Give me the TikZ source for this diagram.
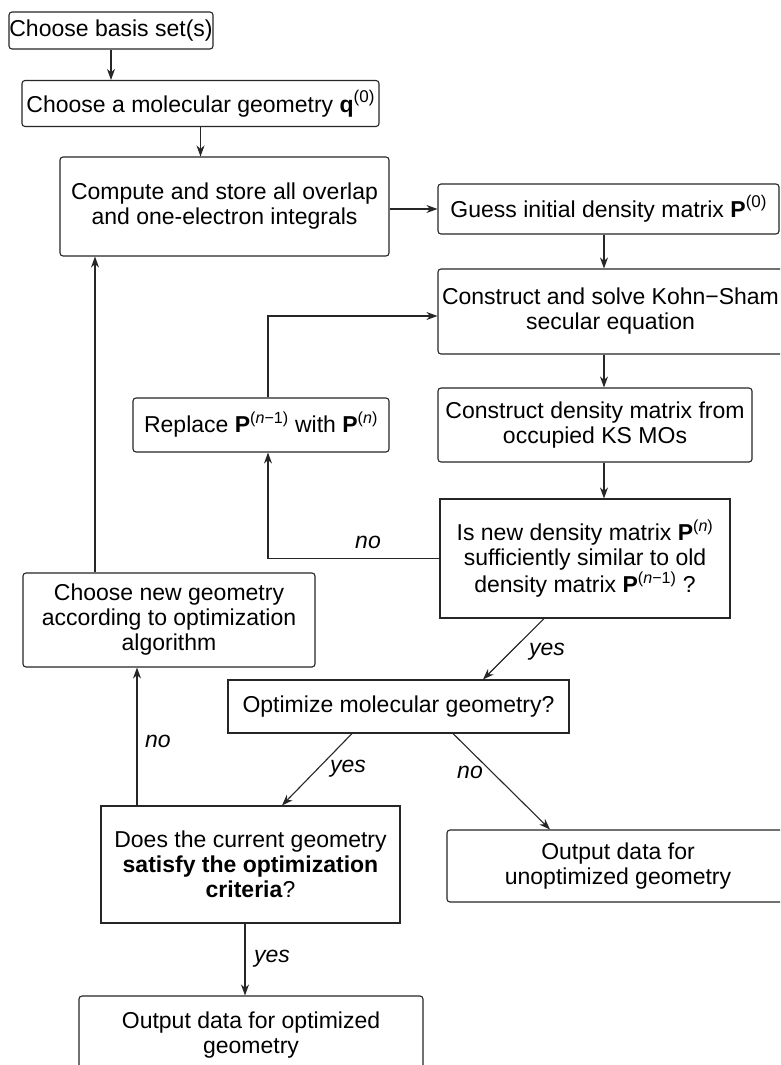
\documentclass[tikz,border=0pt]{standalone}
\usepackage{fontspec}
\setmainfont{Liberation Sans}
\usetikzlibrary{arrows.meta}
\newcommand\mainfs{\fontsize{23}{25}\selectfont}
\newcommand\sps[1]{\textsuperscript{#1}}
\newcommand\spz[1]{\raisebox{0.42em}{\fontsize{17}{17}\selectfont #1}}
\tikzset{
  box/.style={draw=black!85, line width=1.1pt, rounded corners=3pt, inner sep=0pt, align=center, font=\mainfs},
  dec/.style={box, rounded corners=0pt},
  arr/.style={draw=black!85, line width=1.1pt, -{Stealth[length=11pt,width=8pt,inset=3.5pt]}},
  lab/.style={font=\mainfs\itshape, inner sep=0pt}
}
\begin{document}
\begin{tikzpicture}[x=1pt,y=-1pt]
\clip (0,0) rectangle (780,1065);
\fill[white] (0,0) rectangle (780,1065);

\node[box, minimum width=204pt, minimum height=37pt] (basis) at (111,30.5) {Choose basis set(s)};
\node[box, minimum width=357pt, minimum height=46pt] (geom) at (200.5,103.5) {Choose a molecular geometry \textbf{q}\spz{(0)}};
\node[box, minimum width=329pt, minimum height=99pt] (int) at (224.5,206.5) {Compute and store all overlap\\and one-electron integrals};
\node[box, minimum width=341pt, minimum height=50pt] (guess) at (608.5,209) {Guess initial density matrix \textbf{P}\spz{(0)}};
\node[box, minimum width=345pt, minimum height=85pt] (KS) at (610.5,311.5) {Construct and solve Kohn−Sham\\secular equation};
\node[box, minimum width=314pt, minimum height=74pt] (density) at (595,425) {Construct density matrix from\\occupied KS MOs};
\node[box, minimum width=256pt, minimum height=54pt] (replace) at (261,425) {Replace \textbf{P}\sps{(\textit{n}−1)} with \textbf{P}\sps{(\textit{n})}};
\node[dec, minimum width=290pt, minimum height=119pt] (check) at (585,558.5) {Is new density matrix \textbf{P}\sps{(\textit{n})}\\sufficiently similar to old\\density matrix \textbf{P}\sps{(\textit{n}−1)} ?};
\node[box, minimum width=292pt, minimum height=94pt] (choose) at (169,620) {Choose new geometry\\according to optimization\\algorithm};
\node[dec, minimum width=341pt, minimum height=53pt] (optimize) at (398.5,706.5) {Optimize molecular geometry?};
\node[box, minimum width=342pt, minimum height=72pt] (unopt) at (618,866) {Output data for\\unoptimized geometry};
\node[dec, minimum width=299pt, minimum height=117pt] (does) at (250.5,864.5) {Does the current geometry\\\textbf{satisfy the optimization}\\\textbf{criteria}?};
\node[box, minimum width=344pt, minimum height=79pt] (optimized) at (251,1035.5) {Output data for optimized\\geometry};

\coordinate (cA) at (604,0);
\coordinate (cR) at (268,0);
\coordinate (cK) at (0,316);
\coordinate (cL) at (95,0);
\coordinate (cN) at (137,0);
\coordinate (cY) at (245,0);
\coordinate (d1) at (544,0);
\coordinate (d2) at (483,0);
\coordinate (d3) at (352,0);
\coordinate (d4) at (282,0);
\coordinate (d5) at (453,0);
\coordinate (d6) at (550,0);

\draw[arr] (basis.south) -- (basis.south |- geom.north);
\draw[arr] (geom.south) -- (geom.south |- int.north);
\draw[arr] (int.east |- guess.west) -- (guess.west);
\draw[arr] (guess.south -| cA) -- (KS.north -| cA);
\draw[arr] (KS.south -| cA) -- (density.north -| cA);
\draw[arr] (density.south -| cA) -- (check.north -| cA);
\draw[arr] (check.west) -- (check.west -| cR) -- (replace.south -| cR);
\draw[arr] (replace.north -| cR) -- (cR |- cK) -- (KS.west |- cK);
\draw[arr] (check.south -| d1) -- (optimize.north -| d2);
\draw[arr] (optimize.south -| d3) -- (does.north -| d4);
\draw[arr] (optimize.south -| d5) -- (unopt.north -| d6);
\draw[arr] (does.north -| cN) -- (choose.south -| cN);
\draw[arr] (choose.north -| cL) -- (int.south -| cL);
\draw[arr] (does.south -| cY) -- (optimized.north -| cY);

\node[lab] (l1) at (368,542) {no};
\node[lab] (l2) at (547,652) {yes};
\node[lab] (l3) at (348,769) {yes};
\node[lab] (l4) at (470,772) {no};
\node[lab] (l5) at (158,741) {no};
\node[lab] (l6) at (272,959) {yes};
\end{tikzpicture}
\end{document}
